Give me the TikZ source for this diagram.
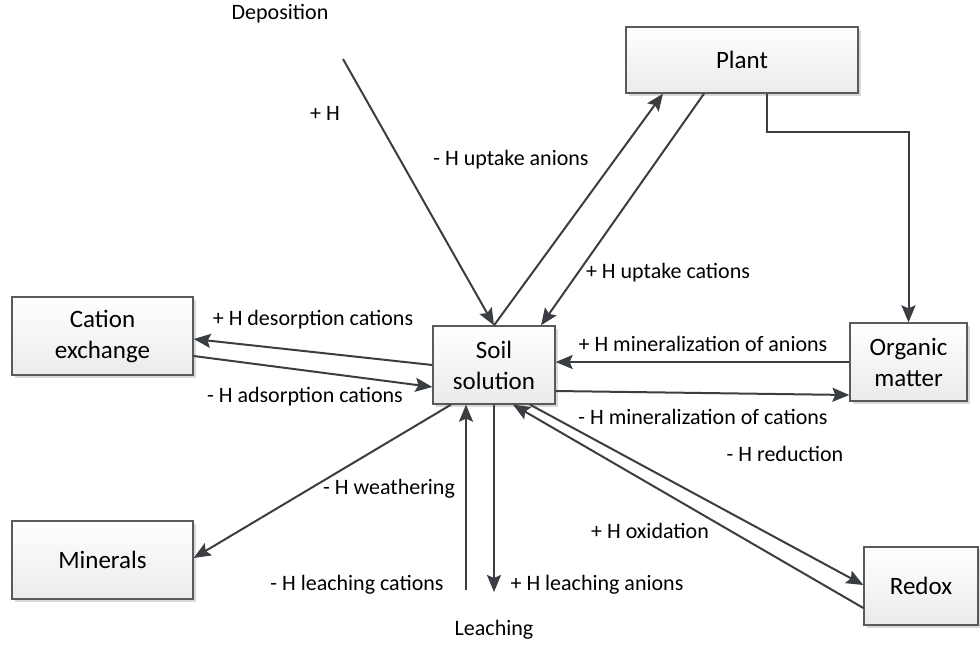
\documentclass[tikz,border=0pt]{standalone}
\usepackage{fontspec}
\setmainfont{Carlito}
\usetikzlibrary{arrows.meta,shadows,calc}
\definecolor{linec}{HTML}{3A3D42}
\definecolor{boxc}{HTML}{5A5A5A}
\tikzset{
  box/.style={draw=boxc, line width=1.3pt, top color=white, bottom color=gray!16,
    drop shadow={shadow xshift=3pt, shadow yshift=-3pt, fill=gray!30, opacity=1},
    align=center, font=\fontsize{25}{31}\selectfont, inner sep=0pt},
  arr/.style={draw=linec, line width=2pt, -{Stealth[length=17pt,width=14pt,inset=3pt]}},
  lbl/.style={font=\fontsize{22}{26}\selectfont, inner sep=0pt}
}
\begin{document}
\begin{tikzpicture}[x=1pt,y=-1pt]
\useasboundingbox (0,0) rectangle (980,654);
% boxes
\node[box, minimum width=232pt, minimum height=66pt] (plant) at (742,60) {Plant};
\node[box, minimum width=181pt, minimum height=78pt] (cation) at (102.5,336) {Cation\\exchange};
\node[box, minimum width=122pt, minimum height=78pt] (soil) at (494,365) {Soil\\solution};
\node[box, minimum width=117pt, minimum height=78pt] (organic) at (908.5,362) {Organic\\matter};
\node[box, minimum width=181pt, minimum height=78pt] (minerals) at (102.5,560) {Minerals};
\node[box, minimum width=114pt, minimum height=78pt] (redox) at (921,586) {Redox};
% free ends
\coordinate (depstart) at (343,59);
\coordinate (leachin) at (466,590);
\coordinate (leachout) at (494,592);
% labels
\node[lbl] (ldep) at (280,14) {Deposition};
\node[lbl] (lh) at (325,113) {+ H};
\node[lbl] (lupan) at (511,160) {- H uptake anions};
\node[lbl] (lupcat) at (668,273) {+ H uptake cations};
\node[lbl] (ldes) at (313,320) {+ H desorption cations};
\node[lbl] (lads) at (305,397) {- H adsorption cations};
\node[lbl] (lminan) at (703,344) {+ H mineralization of anions};
\node[lbl] (lmincat) at (703,417) {- H mineralization of cations};
\node[lbl] (lweath) at (389,489) {- H weathering};
\node[lbl] (llcat) at (357,585) {- H leaching cations};
\node[lbl] (llan) at (597,585) {+ H leaching anions};
\node[lbl] (lleach) at (494,630) {Leaching};
\node[lbl] (lred) at (785,454) {- H reduction};
\node[lbl] (lox) at (650,531) {+ H oxidation};
% connectors
\draw[arr] (depstart) -- (soil.north);
\draw[arr] (soil.north) -- ([xshift=-79pt]plant.south);
\draw[arr] ([xshift=-38pt]plant.south) -- ([xshift=47pt]soil.north);
\draw[arr] ([xshift=25pt]plant.south) -- ++(0,38) -| (organic.north);
\draw[arr] (soil.west) -- ([yshift=-3pt]cation.east);
\draw[arr] ([yshift=-20pt]cation.east) -- ([yshift=-22pt]soil.west);
\draw[arr] (organic.west) -- (organic.west -| soil.east);
\draw[arr] ([yshift=-26pt]soil.east) -- ([yshift=-33pt]organic.west);
\draw[arr] ([xshift=-43pt]soil.south) -- ([yshift=2pt]minerals.east);
\draw[arr] (leachin) -- (leachin |- soil.south);
\draw[arr] (soil.south) -- (leachout);
\draw[arr] ([xshift=36pt]soil.south) -- ([yshift=1pt]redox.west);
\draw[arr] ([yshift=-22pt]redox.west) -- ([xshift=19pt]soil.south);
\end{tikzpicture}
\end{document}
